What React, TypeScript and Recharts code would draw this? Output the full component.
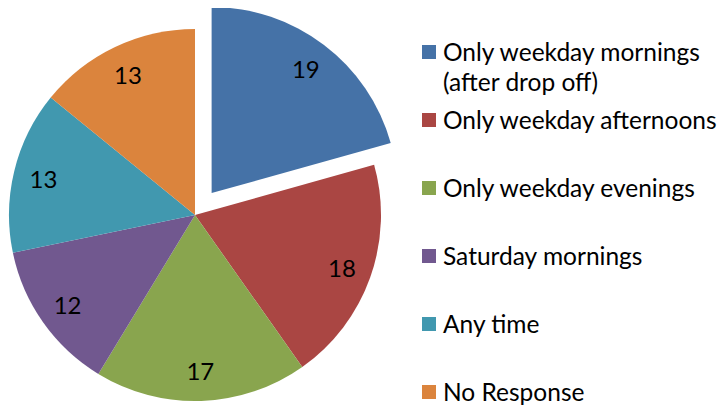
import { PieChart, Pie, Cell, Legend } from 'recharts'

const categories = [
  'Only weekday mornings (after drop off)',
  'Only weekday afternoons',
  'Only weekday evenings',
  'Saturday mornings',
  'Any time',
  'No Response',
]
const counts = [19, 18, 17, 12, 13, 13]
const COLORS = ['#4572A7', '#AA4643', '#89A54E', '#71588F', '#4198AF', '#DB843D']

const data = categories.map((name, i) => ({ name, value: counts[i] }))

const FONT = 'Lato, "Open Sans", sans-serif'
const RADIAN = Math.PI / 180
const CX = 187
const CY = 207
const R = 186
const EXPLODE = 27.5

// the first slice is pulled out along its middle angle
const total = counts.reduce((a, b) => a + b, 0)
const firstMid = ((counts[0] / total) * 360) / 2
const CX2 = CX + EXPLODE * Math.sin(firstMid * RADIAN)
const CY2 = CY - EXPLODE * Math.cos(firstMid * RADIAN)

const makeLabel = (show: (i: number) => boolean) => (props: any) => {
  const { cx, cy, midAngle, index, value } = props
  if (!show(index)) return null
  const r = 156
  const x = cx + r * Math.cos(-midAngle * RADIAN)
  const y = cy + r * Math.sin(-midAngle * RADIAN)
  return (
    <text
      x={x}
      y={y}
      fill='#000'
      fontSize={24}
      fontFamily={FONT}
      textAnchor='middle'
      dominantBaseline='central'
    >
      {value}
    </text>
  )
}

const renderLegend = () => (
  <div style={{ fontFamily: FONT, fontSize: 24.5, color: '#000' }}>
    {categories.map((name, i) => (
      <div key={name} style={{ height: 68, position: 'relative' }}>
        <div
          style={{
            position: 'absolute',
            top: 19,
            left: 0,
            display: 'flex',
            alignItems: 'flex-start',
          }}
        >
          <span
            style={{
              width: 14,
              height: 14,
              background: COLORS[i],
              marginTop: 8,
              marginRight: 7,
              flex: 'none',
            }}
          />
          <span style={{ lineHeight: '30px', width: 290 }}>{name}</span>
        </div>
      </div>
    ))}
  </div>
)

export default function App() {
  return (
    <PieChart width={717} height={398} margin={{ top: 0, right: 0, bottom: 0, left: 0 }}>
      <Pie
        dataKey='value'
        data={data}
        cx={CX}
        cy={CY}
        outerRadius={R}
        startAngle={90}
        endAngle={-270}
        stroke='none'
        labelLine={false}
        label={makeLabel((i) => i !== 0)}
        isAnimationActive={false}
      >
        {data.map((entry, index) => (
          <Cell key={`cell-${index}`} fill={index === 0 ? 'none' : COLORS[index]} />
        ))}
      </Pie>
      <Pie
        dataKey='value'
        data={data}
        cx={CX2}
        cy={CY2}
        outerRadius={R}
        startAngle={90}
        endAngle={-270}
        stroke='none'
        labelLine={false}
        label={makeLabel((i) => i === 0)}
        isAnimationActive={false}
      >
        {data.map((entry, index) => (
          <Cell key={`cellx-${index}`} fill={index === 0 ? COLORS[0] : 'none'} />
        ))}
      </Pie>
      <Legend
        layout='vertical'
        align='right'
        verticalAlign='top'
        content={renderLegend}
        wrapperStyle={{ left: 414, top: 10, width: 310 }}
      />
    </PieChart>
  )
}
